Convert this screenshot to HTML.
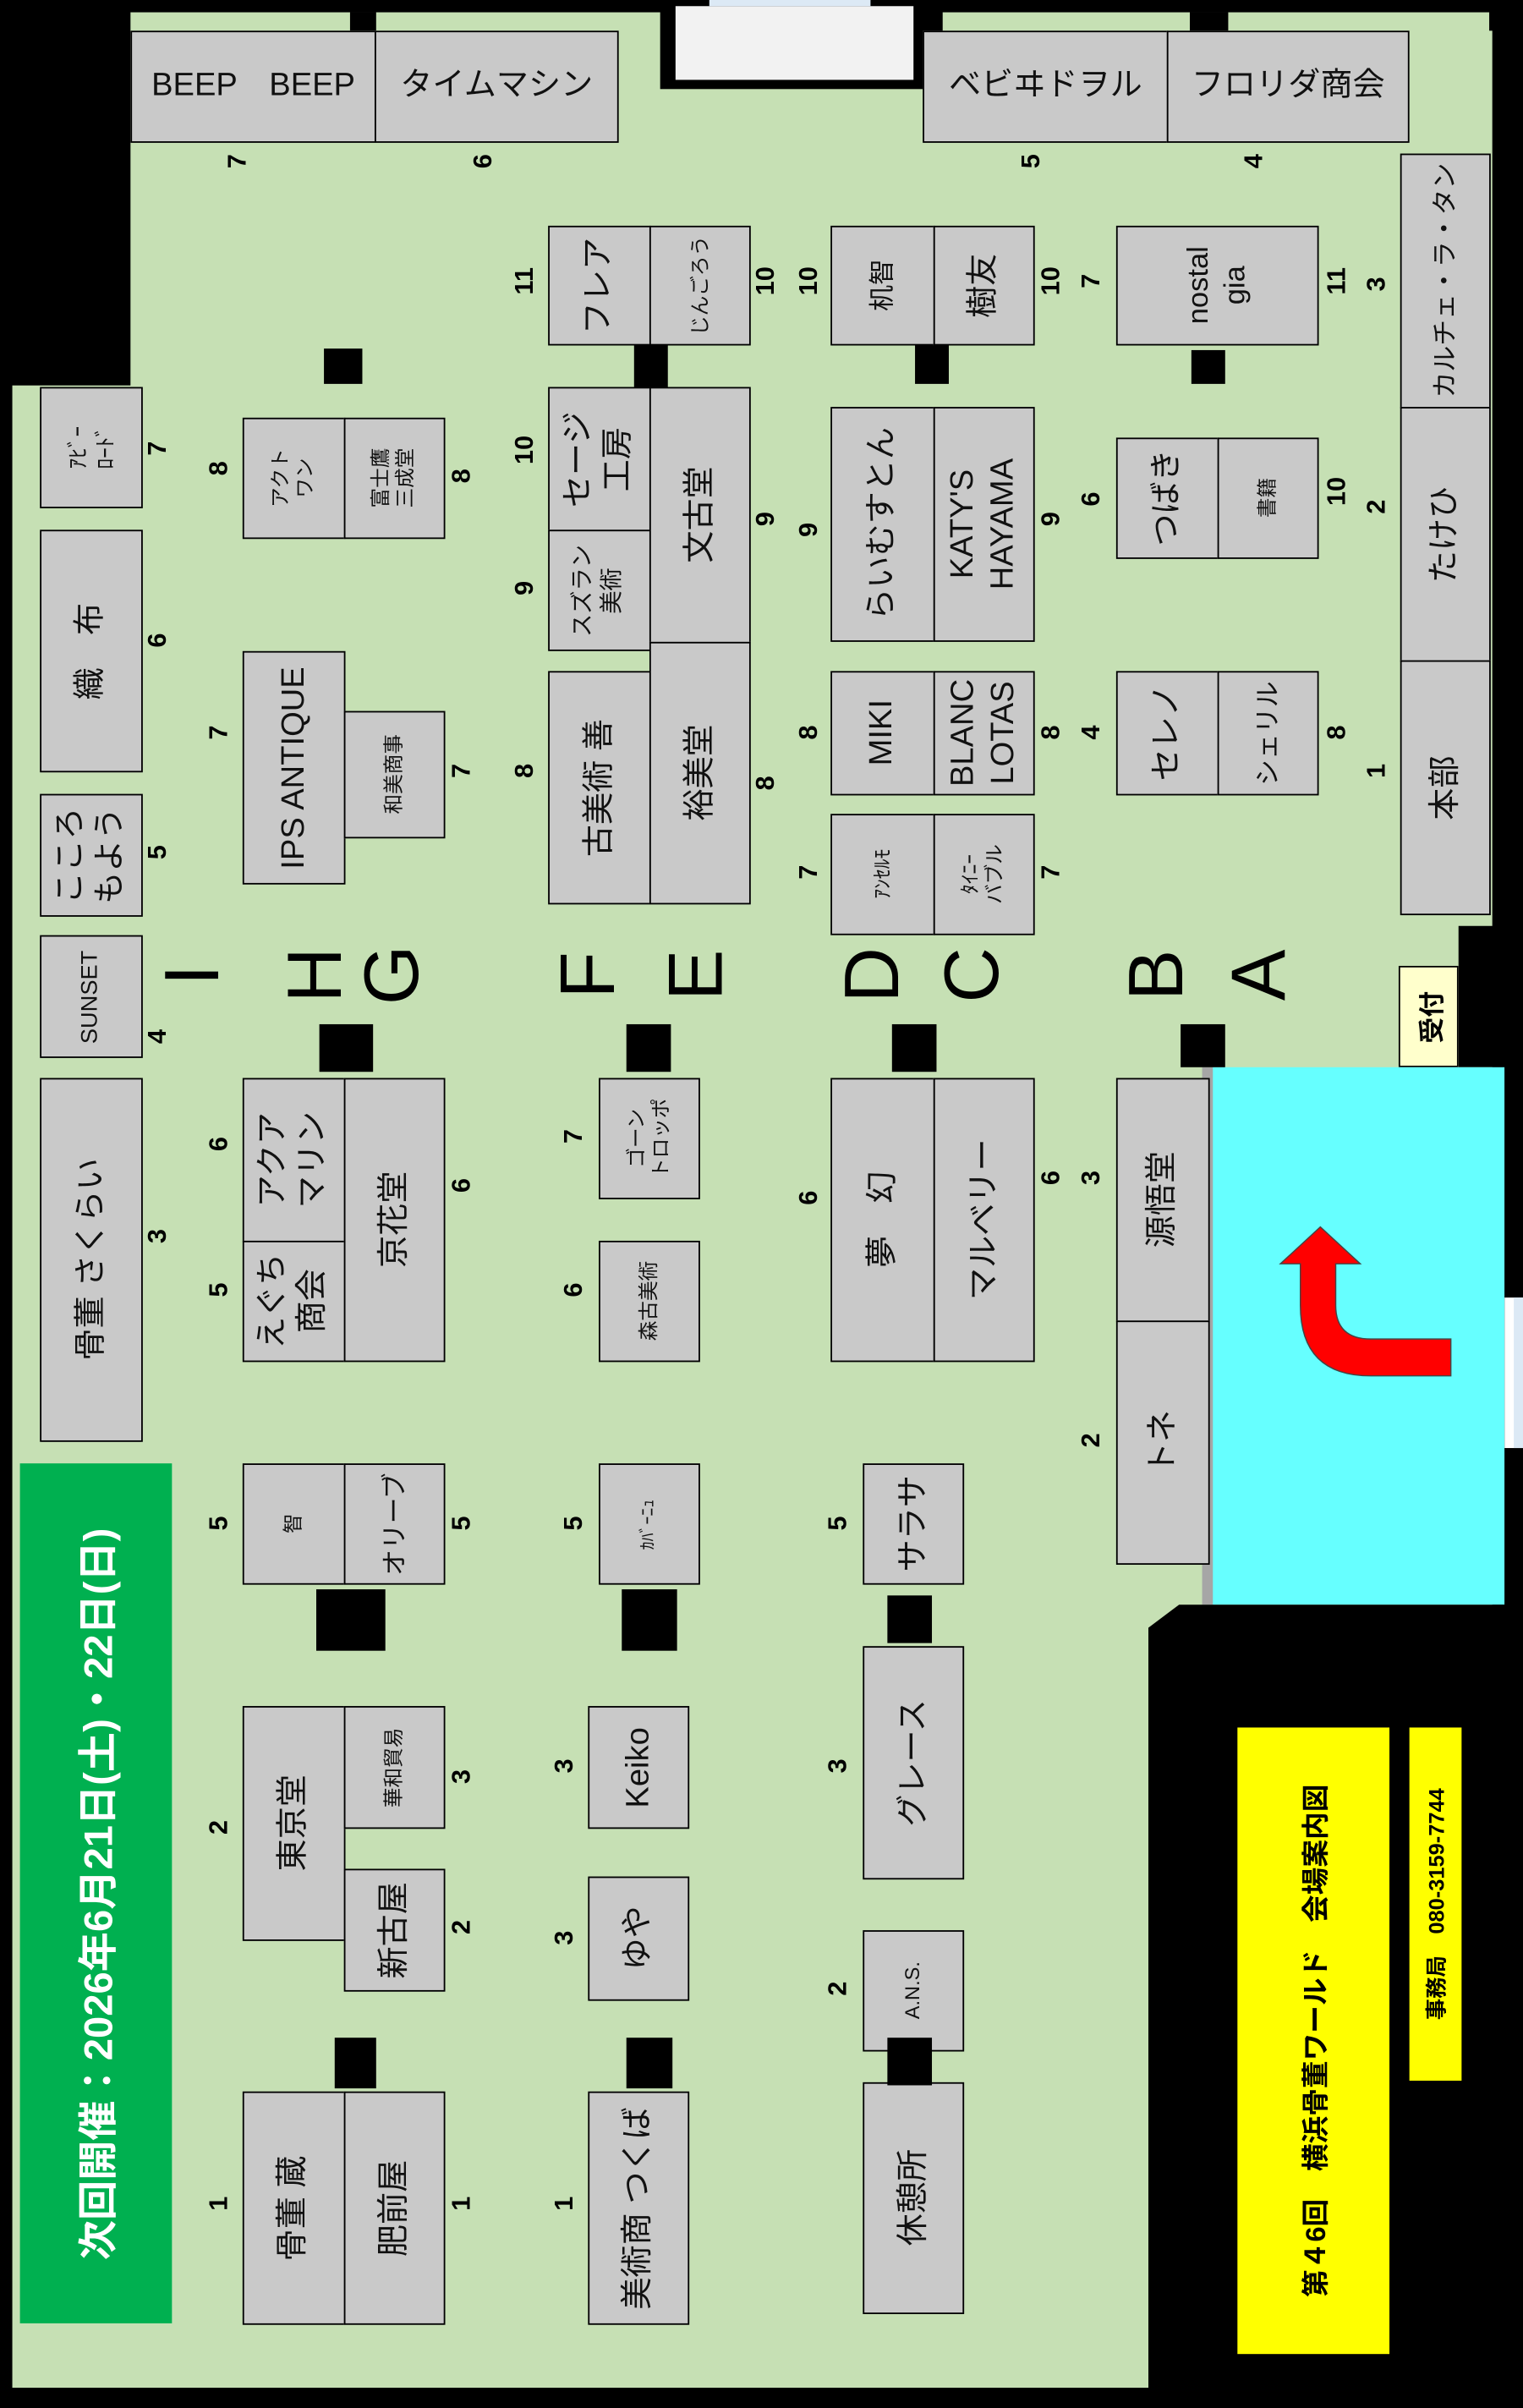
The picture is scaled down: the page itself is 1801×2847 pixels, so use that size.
<!DOCTYPE html>
<html><head><meta charset="utf-8">
<style>
html,body{margin:0;padding:0;background:#000;width:1801px;height:2847px;overflow:hidden}
#m{position:absolute;left:0;top:0;width:992px;height:1568px;transform:scale(1.81552);transform-origin:0 0;font-family:"Liberation Sans","Noto Sans CJK JP",sans-serif}
.g{position:absolute;background:#c6e0b4}
.k{position:absolute;background:#000}
.b{position:absolute;box-sizing:border-box;background:#c9c9c9;border:1px solid #000;display:flex;align-items:center;justify-content:center}
.b span{display:block;transform:rotate(-90deg);white-space:nowrap;text-align:center;line-height:1.25;font-size:21px;color:#111}
.b span.s{font-size:13px}
.b span.m{font-size:17px}
.b span.h{transform:none}
.n{position:absolute;font-weight:bold;font-size:17px;transform:translate(-50%,-50%) rotate(-90deg);color:#000}
.L{position:absolute;font-size:50px;transform:translate(-50%,-50%) rotate(-90deg);color:#000;line-height:1}
</style></head><body><div id="m">
<div class="g" style="left:8px;top:8px;width:964px;height:1547px"></div>
<div class="k" style="left:0;top:0;width:85px;height:251px"></div>
<div class="k" style="left:0;top:0;width:992px;height:8px"></div>
<div class="k" style="left:0;top:0;width:8px;height:1568px"></div>
<div class="k" style="left:0;top:1555px;width:992px;height:13px"></div>
<div class="k" style="left:228px;top:8px;width:17px;height:12px"></div>
<div class="k" style="left:775px;top:8px;width:25px;height:12px"></div>
<div class="k" style="left:970px;top:0;width:22px;height:20px"></div>
<div class="k" style="left:984px;top:0;width:8px;height:1568px"></div>
<div class="k" style="left:430px;top:0;width:184px;height:58px"></div>
<div style="position:absolute;left:440px;top:4px;width:155px;height:48px;background:#f2f2f2"></div>
<div style="position:absolute;left:462px;top:0;width:105px;height:4px;background:#dce9f5"></div>
<div class="k" style="left:950px;top:603px;width:42px;height:92px"></div>
<div style="position:absolute;left:911px;top:629px;width:39px;height:66px;box-sizing:border-box;background:#ffffcc;border:1px solid #000;display:flex;align-items:center;justify-content:center"><span style="transform:rotate(-90deg);font-weight:bold;font-size:17px;white-space:nowrap">受付</span></div>
<div style="position:absolute;left:783px;top:695px;width:8px;height:350px;background:#a6a6a6"></div>
<div style="position:absolute;left:790px;top:695px;width:190px;height:350px;background:#66ffff"></div>
<div class="k" style="left:980px;top:695px;width:12px;height:350px"></div>
<div style="position:absolute;left:980px;top:845px;width:12px;height:98px;background:#fff"></div>
<div style="position:absolute;left:986px;top:845px;width:6px;height:98px;background:#dce9f5"></div>
<svg style="position:absolute;left:0;top:0" width="992" height="1568"><path d="M847,823 L847,850 Q847,896 893,896 L945,896 L945,872 L893,872 Q870,872 870,850 L870,823 L886,823 L860,799 L834,823 Z" fill="#ff0000" stroke="#444" stroke-width="0.8"/>
<polygon points="748,1060 768,1045 992,1045 992,1568 748,1568" fill="#000"/></svg>
<div style="position:absolute;left:806px;top:1125px;width:99px;height:408px;background:#ffff00;display:flex;align-items:center;justify-content:center"><span style="transform:rotate(-90deg);white-space:nowrap;font-weight:bold;font-size:18px">第４6回　横浜骨董ワールド　会場案内図</span></div>
<div style="position:absolute;left:918px;top:1125px;width:34px;height:230px;background:#ffff00;display:flex;align-items:center;justify-content:center"><span style="transform:rotate(-90deg);white-space:nowrap;font-weight:bold;font-size:14px">事務局　080-3159-7744</span></div>
<div style="position:absolute;left:13px;top:953px;width:99px;height:560px;background:#00b050;display:flex;align-items:center;justify-content:center"><span style="transform:rotate(-90deg);white-space:nowrap;font-weight:bold;font-size:26px;color:#fff">次回開催：2026年6月21日(土)・22日(日)</span></div>

<div class="b" style="left:85px;top:20px;width:160px;height:73px"><span class="h">BEEP　BEEP</span></div>
<div class="b" style="left:244px;top:20px;width:159px;height:73px"><span class="h">タイムマシン</span></div>
<div class="b" style="left:601px;top:20px;width:160px;height:73px"><span class="h">ベビヰドヲル</span></div>
<div class="b" style="left:760px;top:20px;width:158px;height:73px"><span class="h">フロリダ商会</span></div>
<div class="n" style="left:155px;top:105px">7</div>
<div class="n" style="left:315px;top:105px">6</div>
<div class="n" style="left:672px;top:105px">5</div>
<div class="n" style="left:817px;top:105px">4</div>

<div class="b" style="left:912px;top:100px;width:59px;height:166px"><span class="m">カルチェ・ラ・タン</span></div>
<div class="b" style="left:912px;top:265px;width:59px;height:166px"><span>たけひ</span></div>
<div class="b" style="left:912px;top:430px;width:59px;height:166px"><span>本部</span></div>
<div class="n" style="left:897px;top:185px">3</div>
<div class="n" style="left:897px;top:330px">2</div>
<div class="n" style="left:897px;top:502px">1</div>

<div class="b" style="left:357px;top:147px;width:67px;height:78px"><span>フレア</span></div>
<div class="b" style="left:423px;top:147px;width:66px;height:78px"><span class="s">じんごろう</span></div>
<div class="k" style="left:413px;top:225px;width:22px;height:27px"></div>
<div class="n" style="left:342px;top:183px">11</div>
<div class="n" style="left:499px;top:183px">10</div>
<div class="b" style="left:357px;top:252px;width:67px;height:94px"><span>セージ<br>工房</span></div>
<div class="b" style="left:357px;top:345px;width:67px;height:79px"><span class="m" style="font-size:15px">スズラン<br>美術</span></div>
<div class="b" style="left:423px;top:252px;width:66px;height:167px"><span>文古堂</span></div>
<div class="b" style="left:357px;top:437px;width:67px;height:152px"><span>古美術 善</span></div>
<div class="b" style="left:423px;top:418px;width:66px;height:171px"><span>裕美堂</span></div>
<div class="n" style="left:342px;top:293px">10</div>
<div class="n" style="left:342px;top:383px">9</div>
<div class="n" style="left:499px;top:338px">9</div>
<div class="n" style="left:342px;top:502px">8</div>
<div class="n" style="left:499px;top:510px">8</div>

<div class="b" style="left:541px;top:147px;width:68px;height:78px"><span class="m">机智</span></div>
<div class="b" style="left:608px;top:147px;width:66px;height:78px"><span>樹友</span></div>
<div class="k" style="left:596px;top:225px;width:22px;height:25px"></div>
<div class="n" style="left:527px;top:183px">10</div>
<div class="n" style="left:685px;top:183px">10</div>
<div class="b" style="left:541px;top:265px;width:68px;height:153px"><span>らいむすとん</span></div>
<div class="b" style="left:608px;top:265px;width:66px;height:153px"><span>KATY'S<br>HAYAMA</span></div>
<div class="n" style="left:527px;top:345px">9</div>
<div class="n" style="left:685px;top:338px">9</div>
<div class="b" style="left:541px;top:437px;width:68px;height:81px"><span>MIKI</span></div>
<div class="b" style="left:608px;top:437px;width:66px;height:81px"><span>BLANC<br>LOTAS</span></div>
<div class="n" style="left:527px;top:477px">8</div>
<div class="n" style="left:685px;top:477px">8</div>
<div class="b" style="left:541px;top:530px;width:68px;height:79px"><span class="s">ｱﾝｾﾙﾓ</span></div>
<div class="b" style="left:608px;top:530px;width:66px;height:79px"><span class="s">ﾀｲﾆｰ<br>バブル</span></div>
<div class="n" style="left:527px;top:568px">7</div>
<div class="n" style="left:685px;top:568px">7</div>

<div class="b" style="left:727px;top:147px;width:132px;height:78px"><span style="font-size:19px">nostal<br>gia</span></div>
<div class="k" style="left:776px;top:228px;width:22px;height:22px"></div>
<div class="n" style="left:711px;top:183px">7</div>
<div class="n" style="left:871px;top:183px">11</div>
<div class="b" style="left:727px;top:285px;width:67px;height:79px"><span>つばき</span></div>
<div class="b" style="left:793px;top:285px;width:66px;height:79px"><span class="s">書籍</span></div>
<div class="n" style="left:711px;top:325px">6</div>
<div class="n" style="left:871px;top:320px">10</div>
<div class="b" style="left:727px;top:437px;width:67px;height:81px"><span>セレノ</span></div>
<div class="b" style="left:793px;top:437px;width:66px;height:81px"><span class="m">シェリル</span></div>
<div class="n" style="left:711px;top:477px">4</div>
<div class="n" style="left:871px;top:477px">8</div>

<div class="k" style="left:211px;top:227px;width:25px;height:23px"></div>
<div class="b" style="left:158px;top:272px;width:67px;height:79px"><span class="s">アクト<br>ワン</span></div>
<div class="b" style="left:224px;top:272px;width:66px;height:79px"><span class="s">富士鷹<br>三成堂</span></div>
<div class="n" style="left:143px;top:305px">8</div>
<div class="n" style="left:301px;top:310px">8</div>
<div class="b" style="left:158px;top:424px;width:67px;height:152px"><span>IPS ANTIQUE</span></div>
<div class="b" style="left:224px;top:463px;width:66px;height:83px"><span class="s">和美商事</span></div>
<div class="n" style="left:143px;top:477px">7</div>
<div class="n" style="left:301px;top:502px">7</div>

<div class="b" style="left:26px;top:252px;width:67px;height:79px"><span class="s" style="font-size:14px">ｱﾋﾞｰ<br>ﾛｰﾄﾞ</span></div>
<div class="b" style="left:26px;top:345px;width:67px;height:158px"><span>織　布</span></div>
<div class="b" style="left:26px;top:517px;width:67px;height:80px"><span>こころ<br>もよう</span></div>
<div class="b" style="left:26px;top:609px;width:67px;height:80px"><span class="m" style="font-size:15px">SUNSET</span></div>
<div class="b" style="left:26px;top:702px;width:67px;height:237px"><span>骨董 さくらい</span></div>
<div class="n" style="left:103px;top:292px">7</div>
<div class="n" style="left:103px;top:417px">6</div>
<div class="n" style="left:103px;top:555px">5</div>
<div class="n" style="left:103px;top:675px">4</div>
<div class="n" style="left:103px;top:805px">3</div>

<div class="L" style="left:125px;top:635px">I</div>
<div class="L" style="left:205px;top:635px">H</div>
<div class="L" style="left:255px;top:635px">G</div>
<div class="L" style="left:383px;top:635px">F</div>
<div class="L" style="left:453px;top:635px">E</div>
<div class="L" style="left:568px;top:635px">D</div>
<div class="L" style="left:633px;top:635px">C</div>
<div class="L" style="left:753px;top:635px">B</div>
<div class="L" style="left:820px;top:635px">A</div>

<div class="b" style="left:158px;top:702px;width:67px;height:107px"><span>アクア<br>マリン</span></div>
<div class="b" style="left:158px;top:808px;width:67px;height:79px"><span>えぐち<br>商会</span></div>
<div class="b" style="left:224px;top:702px;width:66px;height:185px"><span>京花堂</span></div>
<div class="n" style="left:143px;top:745px">6</div>
<div class="n" style="left:143px;top:840px">5</div>
<div class="n" style="left:301px;top:772px">6</div>
<div class="b" style="left:390px;top:702px;width:66px;height:79px"><span class="s">ゴーン<br>トロッポ</span></div>
<div class="b" style="left:390px;top:808px;width:66px;height:79px"><span class="s">森古美術</span></div>
<div class="n" style="left:374px;top:740px">7</div>
<div class="n" style="left:374px;top:840px">6</div>
<div class="b" style="left:541px;top:702px;width:68px;height:185px"><span>夢　幻</span></div>
<div class="b" style="left:608px;top:702px;width:66px;height:185px"><span>マルベリー</span></div>
<div class="n" style="left:527px;top:780px">6</div>
<div class="n" style="left:685px;top:767px">6</div>
<div class="b" style="left:727px;top:702px;width:61px;height:159px"><span>源悟堂</span></div>
<div class="b" style="left:727px;top:860px;width:61px;height:159px"><span>トネ</span></div>
<div class="n" style="left:711px;top:767px">3</div>
<div class="n" style="left:711px;top:938px">2</div>
<div class="k" style="left:208px;top:667px;width:35px;height:31px"></div>
<div class="k" style="left:408px;top:667px;width:29px;height:31px"></div>
<div class="k" style="left:581px;top:667px;width:29px;height:31px"></div>
<div class="k" style="left:769px;top:667px;width:29px;height:28px"></div>

<div class="b" style="left:158px;top:953px;width:67px;height:79px"><span class="s">智</span></div>
<div class="b" style="left:224px;top:953px;width:66px;height:79px"><span class="m">オリーブ</span></div>
<div class="n" style="left:143px;top:992px">5</div>
<div class="n" style="left:301px;top:992px">5</div>
<div class="k" style="left:206px;top:1035px;width:45px;height:40px"></div>
<div class="b" style="left:390px;top:953px;width:66px;height:79px"><span class="s" style="font-size:11px">ｶﾊﾞｰﾆｭ</span></div>
<div class="n" style="left:374px;top:992px">5</div>
<div class="k" style="left:405px;top:1035px;width:36px;height:40px"></div>
<div class="b" style="left:562px;top:953px;width:66px;height:79px"><span>サラサ</span></div>
<div class="n" style="left:546px;top:992px">5</div>
<div class="k" style="left:578px;top:1039px;width:29px;height:31px"></div>

<div class="b" style="left:158px;top:1111px;width:67px;height:153px"><span>東京堂</span></div>
<div class="b" style="left:224px;top:1111px;width:66px;height:80px"><span class="s">華和貿易</span></div>
<div class="b" style="left:224px;top:1217px;width:66px;height:80px"><span>新古屋</span></div>
<div class="n" style="left:143px;top:1190px">2</div>
<div class="n" style="left:301px;top:1157px">3</div>
<div class="n" style="left:301px;top:1255px">2</div>
<div class="b" style="left:383px;top:1111px;width:66px;height:80px"><span>Keiko</span></div>
<div class="b" style="left:383px;top:1222px;width:66px;height:81px"><span>ゆや</span></div>
<div class="n" style="left:368px;top:1150px">3</div>
<div class="n" style="left:368px;top:1262px">3</div>
<div class="b" style="left:562px;top:1072px;width:66px;height:152px"><span>グレース</span></div>
<div class="n" style="left:546px;top:1150px">3</div>
<div class="b" style="left:562px;top:1257px;width:66px;height:79px"><span class="s">A.N.S.</span></div>
<div class="n" style="left:546px;top:1295px">2</div>

<div class="b" style="left:158px;top:1362px;width:67px;height:152px"><span>骨董 蔵</span></div>
<div class="b" style="left:224px;top:1362px;width:66px;height:152px"><span>肥前屋</span></div>
<div class="n" style="left:143px;top:1435px">1</div>
<div class="n" style="left:301px;top:1435px">1</div>
<div class="b" style="left:383px;top:1362px;width:66px;height:152px"><span>美術商 つくば</span></div>
<div class="n" style="left:368px;top:1435px">1</div>
<div class="b" style="left:562px;top:1356px;width:66px;height:151px"><span>休憩所</span></div>
<div class="k" style="left:218px;top:1327px;width:27px;height:33px"></div>
<div class="k" style="left:408px;top:1327px;width:30px;height:33px"></div>
<div class="k" style="left:578px;top:1327px;width:29px;height:31px"></div>
</div></body></html>
